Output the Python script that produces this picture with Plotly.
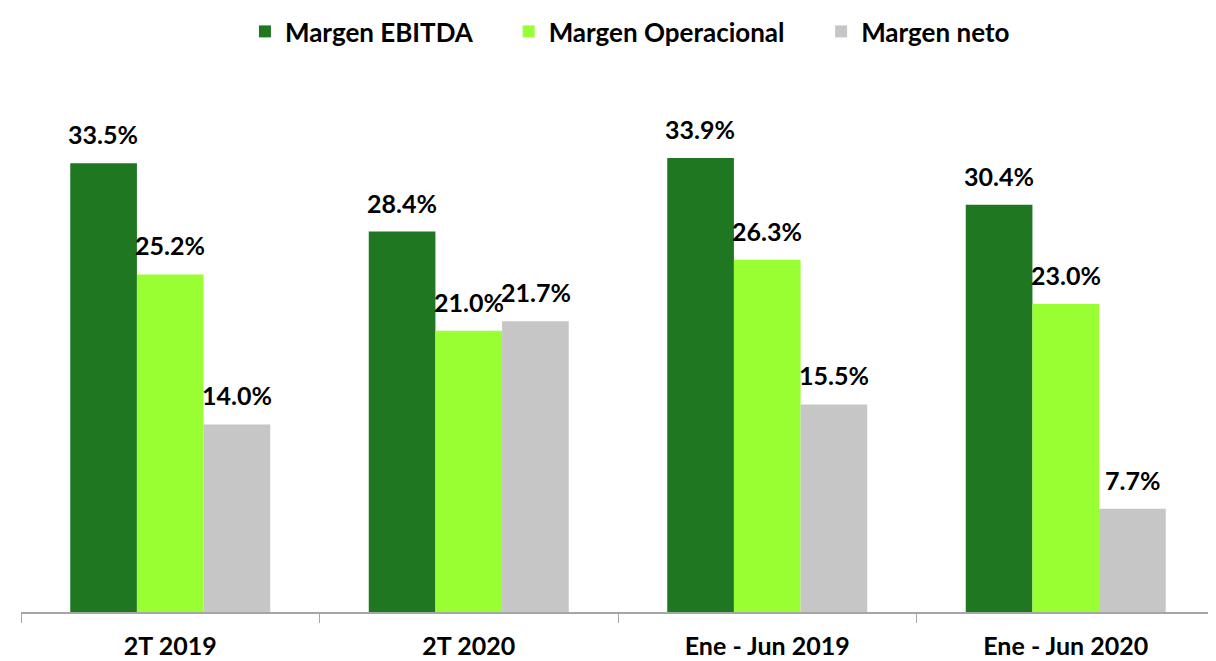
import plotly.graph_objects as go

periodos = ["2T 2019", "2T 2020", "Ene - Jun 2019", "Ene - Jun 2020"]
margen_ebitda = [33.5, 28.4, 33.9, 30.4]
margen_operacional = [25.2, 21.0, 26.3, 23.0]
margen_neto = [14.0, 21.7, 15.5, 7.7]

nombres = ["Margen EBITDA", "Margen Operacional", "Margen neto"]
colores = ["#1f7722", "#99ff33", "#c6c6c6"]
valores_series = [margen_ebitda, margen_operacional, margen_neto]

font_fam = "Lato, 'Open Sans', sans-serif"
sep = "\u00a0" * 5  # espacio extra entre entradas de la leyenda

fig = go.Figure()
for i, (nombre, valores, color) in enumerate(zip(nombres, valores_series, colores)):
    fig.add_trace(go.Bar(
        x=periodos,
        y=valores,
        name=nombre + (sep if i < 2 else ""),
        marker=dict(color=color, line=dict(width=0)),
    ))

# etiquetas de valor encima de cada barra (desplazadas segun la serie)
shifts = [-67, 0, 67]
for valores, dx in zip(valores_series, shifts):
    for p, v in zip(periodos, valores):
        fig.add_annotation(
            x=p, y=v, text=f"{v:.1f}%",
            showarrow=False, xshift=dx, yshift=12, yanchor="bottom",
            font=dict(family=font_fam, size=25, color="black", weight="bold"),
        )

# la pagina tiene 8px de margen en el body
fig.update_layout(
    barmode="group",
    bargap=0.33,
    bargroupgap=0,
    width=1208,
    height=653,
    margin=dict(l=13, r=1, t=95, b=49),
    plot_bgcolor="white",
    paper_bgcolor="white",
    font=dict(family=font_fam, size=22, color="black"),
    legend=dict(
        orientation="h",
        x=0.51, xanchor="center",
        y=1.0, yanchor="top",
        yref="container",
        font=dict(size=26, weight="bold"),
        itemwidth=30,
        traceorder="normal",
    ),
    xaxis=dict(
        showline=True,
        linecolor="#a6a6a6",
        linewidth=1.5,
        ticks="outside",
        tickson="boundaries",
        ticklen=9,
        tickcolor="#a6a6a6",
        tickfont=dict(size=25, weight="bold"),
        ticklabelstandoff=11,
    ),
    yaxis=dict(
        range=[0, 38],
        visible=False,
        showgrid=False,
        zeroline=False,
    ),
)

fig.write_html("out.html")
